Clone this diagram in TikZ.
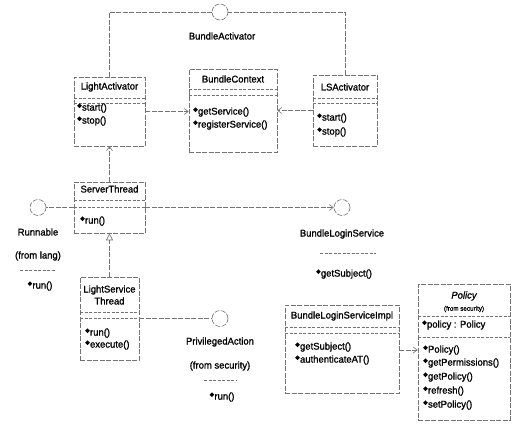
\documentclass[tikz,border=0pt]{standalone}
\usepackage{fontspec}
\setmainfont{Liberation Sans}[FakeBold=1.2, FakeStretch=0.97]
\usetikzlibrary{arrows.meta}
\newcommand{\dm}{\raisebox{0.5ex}{\rotatebox{45}{\rule{3.3bp}{3.3bp}}}\kern0.2bp}
\begin{document}
\begin{tikzpicture}[x=1bp,y=-1bp,
  ln/.style={draw=black!55, line width=0.6bp, dash pattern=on 5bp off 1.5bp},
  clsbox/.style={ln, rectangle, inner sep=0},
  iface/.style={ln, circle, minimum size=16bp, inner sep=0},
  txt/.style={inner sep=0, font=\fontsize{9.8}{12}\selectfont},
  smalltxt/.style={inner sep=0, font=\fontsize{6.5}{8}\selectfont},
  mth/.style={txt, anchor=west},
  sepln/.style={draw=black!55, line width=0.6bp, dash pattern=on 3bp off 1.5bp},
  dep/.style={ln, -{Straight Barb[length=4bp,width=6bp]}},
  gen/.style={ln, -{Triangle[open,length=7bp,width=7bp]}}
]
\useasboundingbox (0,0) rectangle (513,425);

% ---------- BundleActivator interface
\node[iface] (ba) at (220,12) {};
\node[txt] (baN) at (222,36) {BundleActivator};

% ---------- LightActivator
\node[clsbox, minimum width=71bp, minimum height=69bp] (la) at (109.5,111.5) {};
\node[txt] (laN) at (109.5,87) {LightActivator};
\draw[sepln] (74,98) -- (145,98);
\draw[sepln] (74,103) -- (145,103);
\node[mth] (la1) at (77,108) {\dm start()};
\node[mth] (la2) at (77,121) {\dm stop()};

% ---------- BundleContext
\node[clsbox, minimum width=88bp, minimum height=83bp] (bc) at (233,110.5) {};
\node[txt] (bcN) at (233,79) {BundleContext};
\draw[sepln] (189,89) -- (277,89);
\draw[sepln] (189,95) -- (277,95);
\node[mth] (bc1) at (193,112) {\dm getService()};
\node[mth] (bc2) at (193,125) {\dm registerService()};

% ---------- LSActivator
\node[clsbox, minimum width=64bp, minimum height=71bp] (lsa) at (345,110.5) {};
\node[txt] (lsaN) at (345,87) {LSActivator};
\draw[sepln] (313,98) -- (377,98);
\draw[sepln] (313,103) -- (377,103);
\node[mth] (lsa1) at (317,118) {\dm start()};
\node[mth] (lsa2) at (317,132) {\dm stop()};

% ---------- ServerThread
\node[clsbox, minimum width=71bp, minimum height=51bp] (st) at (109.5,207.5) {};
\node[txt] (stN) at (109.5,189) {ServerThread};
\draw[sepln] (74,200) -- (145,200);
\draw[sepln] (74,207.5) -- (145,207.5);
\node[mth] (st1) at (80,221) {\dm run()};

% ---------- Runnable interface
\node[iface] (rn) at (38,207.5) {};
\node[txt] (rnN) at (38,232) {Runnable};
\node[txt] (rnF) at (38,256) {(from lang)};
\draw[sepln] (20,270) -- (56,270);
\node[txt] (rn1) at (40,286) {\dm run()};

% ---------- BundleLoginService interface
\node[iface] (bls) at (342,207.5) {};
\node[txt] (blsN) at (342,234) {BundleLoginService};
\draw[sepln] (320,253) -- (376,253);
\node[txt] (bls1) at (344,274) {\dm getSubject()};

% ---------- LightServiceThread
\node[clsbox, minimum width=59bp, minimum height=83bp] (lst) at (109.5,318.5) {};
\node[txt, align=center] (lstN) at (109.5,295) {LightService\\Thread};
\draw[sepln] (80,312) -- (139,312);
\draw[sepln] (80,318.5) -- (139,318.5);
\node[mth] (lst1) at (85,333) {\dm run()};
\node[mth] (lst2) at (85,345) {\dm execute()};

% ---------- PrivilegedAction interface
\node[iface] (pa) at (220,318.5) {};
\node[txt] (paN) at (220,342) {PrivilegedAction};
\node[txt] (paF) at (220,366) {(from security)};
\draw[sepln] (204,380) -- (236,380);
\node[txt] (pa1) at (222,397) {\dm run()};

% ---------- BundleLoginServiceImpl
\node[clsbox, minimum width=114bp, minimum height=88bp] (bli) at (342,349) {};
\node[txt] (bliN) at (342,316) {BundleLoginServiceImpl};
\draw[sepln] (285,327) -- (399,327);
\draw[sepln] (285,333) -- (399,333);
\node[mth] (bli1) at (295,347) {\dm getSubject()};
\node[mth] (bli2) at (295,360) {\dm authenticateAT()};

% ---------- Policy
\node[clsbox, minimum width=92bp, minimum height=136bp] (pol) at (464,352) {};
\node[txt] (polN) at (464,296) {\itshape Policy};
\node[smalltxt] (polF) at (464,309) {(from security)};
\draw[sepln] (418,316) -- (510,316);
\node[mth] (pola) at (422,325) {\dm policy : Policy};
\draw[sepln] (418,337) -- (510,337);
\node[mth] (pol1) at (423,350) {\dm Policy()};
\node[mth] (pol2) at (423,363) {\dm getPermissions()};
\node[mth] (pol3) at (423,377) {\dm getPolicy()};
\node[mth] (pol4) at (423,391) {\dm refresh()};
\node[mth] (pol5) at (423,405) {\dm setPolicy()};

% ---------- connectors
\draw[ln] (la.north) |- (ba.west);
\draw[ln] (lsa.north) |- (ba.east);
\draw[dep] (la.east) -- (bc.west |- la.east);
\draw[dep] (lsa.west) -- (bc.east |- lsa.west);
\draw[dep] (st.north) -- (la.south);
\draw[gen] (lst.north) -- (st.south);
\draw[ln] (st.west) -- (rn.east);
\draw[dep] (st.east) -- (bls.west);
\draw[ln] (lst.east) -- (pa.west);
\draw[dep] (pol1 -| bli.east) -- (pol1 -| pol.west);
\end{tikzpicture}
\end{document}
